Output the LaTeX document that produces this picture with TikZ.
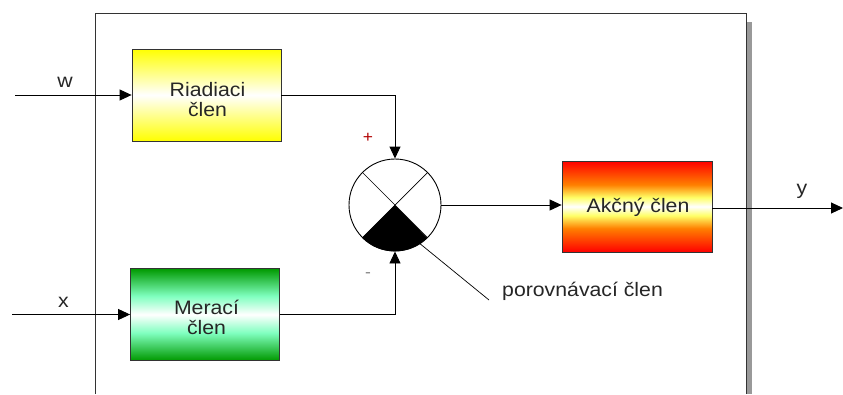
\documentclass[tikz,border=0pt]{standalone}
\usepackage{fontspec}
\setmainfont[FakeStretch=1.09]{Liberation Sans}
\usetikzlibrary{arrows.meta}
\pgfdeclareverticalshading{yelsh}{100bp}{color(0bp)=(yellow!90!orange); color(25bp)=(yellow); color(40bp)=(yellow!40); color(50bp)=(white); color(60bp)=(yellow!40); color(75bp)=(yellow); color(100bp)=(yellow!90!orange)}
\pgfdeclareverticalshading{grnsh}{100bp}{color(0bp)=(green!45!black); color(25bp)=(green!60!black); color(40bp)=(green!50!cyan!50); color(50bp)=(white); color(60bp)=(green!50!cyan!50); color(75bp)=(green!60!black); color(100bp)=(green!45!black)}
\pgfdeclareverticalshading{redsh}{100bp}{color(0bp)=(red!85!black); color(25bp)=(red); color(38bp)=(orange); color(45bp)=(yellow!60); color(50bp)=(white); color(55bp)=(yellow!60); color(62bp)=(orange); color(75bp)=(red); color(100bp)=(red!85!black)}
\tikzset{
  blk/.style={draw=black!80, line width=0.8pt, minimum width=149pt, minimum height=92pt, inner sep=0pt},
  conn/.style={line width=0.9pt, -{Triangle[length=12pt,width=11pt]}},
  lbl/.style={font=\fontsize{19.5}{20}\selectfont, inner sep=0pt, text=black!85, anchor=base}
}
\begin{document}
\begin{tikzpicture}[x=1pt,y=-1pt]
\useasboundingbox (0,0) rectangle (843,394);
\fill[white] (0,0) rectangle (843,394);
% frame shadow
\fill[black!40] (746,22) rectangle (752,394);
\draw[line width=0.9pt, black!80] (95,394) -- (95,13) -- (746,13) -- (746,394);
% blocks
\node[blk, shading=yelsh] (r) at (206.5,95) {};
\node[blk, shading=grnsh] (m) at (205,314.5) {};
\node[blk, shading=redsh, minimum width=150pt, minimum height=91pt] (a) at (637,206.5) {};
\node[lbl] (rt1) at (207.5,96) {Riadiaci};
\node[lbl] (rt2) at (207.5,116) {člen};
\node[lbl] (mt1) at (206.5,314) {Merací};
\node[lbl] (mt2) at (206.5,334) {člen};
\node[lbl] (at) at (638,212) {Akčný člen};
% comparator
\node[draw, line width=0.9pt, circle, minimum size=92pt, inner sep=0pt, fill=white] (c) at (395,205) {};
\fill (c.center) -- (c.225) arc[start angle=225, end angle=315, radius=46pt] -- cycle;
\draw[line width=0.7pt] (c.45) -- (c.225) (c.135) -- (c.315);
% inputs / outputs
\coordinate (win) at (15,95);
\coordinate (xin) at (12,314.5);
\coordinate (yout) at (843,208);
\coordinate (ptr) at (489,300);
\draw[conn] (win) -- (r.west);
\draw[conn] (xin) -- (m.west);
\draw[conn] (r.east) -| (c.north);
\draw[conn] (m.east) -| (c.south);
\draw[conn] (c.east) -- (c.east -| a.west);
\draw[conn] (a.east |- yout) -- (yout);
\node[lbl] (wl) at (65,87) {w};
\node[lbl] (xl) at (63.5,307) {x};
\node[lbl] (yl) at (802,194) {y};
\node[lbl, text=red!70!black, font=\fontsize{16}{18}\selectfont] (plus) at (368,142) {+};
\node[lbl, text=black!50, font=\fontsize{16}{18}\selectfont] (minus) at (368,277) {-};
\node[lbl, anchor=base west] (pc) at (502,296) {porovnávací člen};
\draw[line width=0.7pt] (c.-57) -- (ptr);
\end{tikzpicture}
\end{document}
